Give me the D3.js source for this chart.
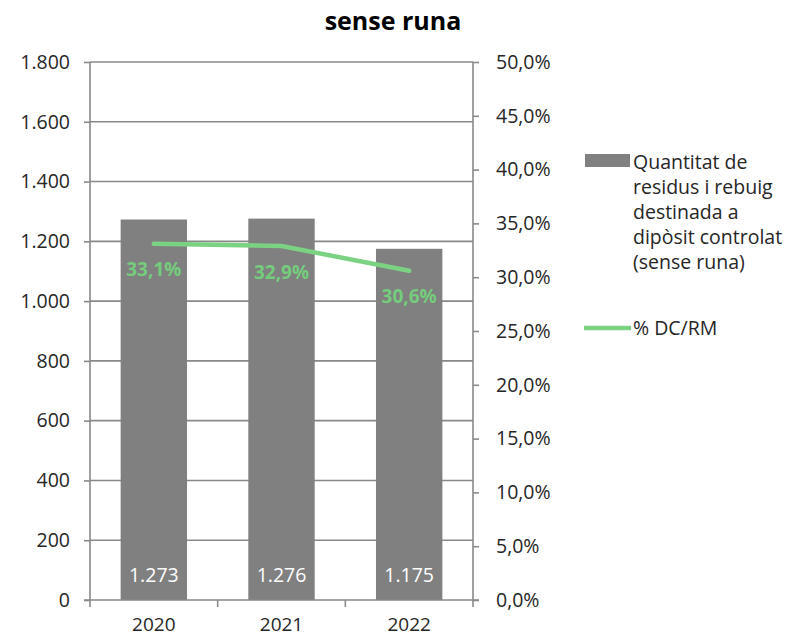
<!DOCTYPE html>
<html><head><meta charset="utf-8">
<script src="https://cdn.jsdelivr.net/npm/d3@7"></script>
<style>body{margin:0;background:#fff}svg{font-family:"Open Sans",sans-serif}</style>
</head><body><svg id="c" width="797" height="639"></svg>
<script>
const years = ["2020","2021","2022"];
const quantitat = [1273, 1276, 1175];
const quantitatLabels = ["1.273","1.276","1.175"];
const pct = [33.1, 32.9, 30.6];
const pctLabels = ["33,1%","32,9%","30,6%"];
const leftTicks = [0,200,400,600,800,1000,1200,1400,1600,1800];
const leftTickLabels = ["0","200","400","600","800","1.000","1.200","1.400","1.600","1.800"];
const rightTicks = [0,5,10,15,20,25,30,35,40,45,50];
const rightTickLabels = ["0,0%","5,0%","10,0%","15,0%","20,0%","25,0%","30,0%","35,0%","40,0%","45,0%","50,0%"];
const legendBar = ["Quantitat de","residus i rebuig","destinada a","dipòsit controlat","(sense runa)"];
const legendLine = "% DC/RM";
const title = "sense runa";

const svg = d3.select("#c");
const L = 90, R = 473, T = 62, B = 600;
const gray = "#808080", axisCol = "#898989", green = "#7bd282", greenTxt = "#74cc7c", txt = "#262626";

const x = d3.scaleBand().domain(years).range([L, R]).paddingInner(0.48).paddingOuter(0.24);
const xb = d3.scaleBand().domain(years).range([L, R]);
const y = d3.scaleLinear().domain([0, 1800]).range([B, T]);
const y2 = d3.scaleLinear().domain([0, 50]).range([B, T]);

// title
svg.append("text").attr("x", 393).attr("y", 30).attr("text-anchor", "middle")
  .attr("font-size", 25).attr("font-weight", "bold").attr("fill", "#000").text(title);

// gridlines
svg.append("g").selectAll("line").data(leftTicks.filter(d => d > 0)).join("line")
  .attr("x1", L).attr("x2", R).attr("y1", d => y(d)).attr("y2", d => y(d))
  .attr("stroke", axisCol).attr("stroke-width", 1.6);

// bars
svg.append("g").selectAll("rect").data(years).join("rect")
  .attr("x", d => x(d)).attr("width", x.bandwidth())
  .attr("y", (d, i) => y(quantitat[i])).attr("height", (d, i) => B - y(quantitat[i]))
  .attr("fill", gray);

// left axis
const ax = d3.axisLeft(y).tickValues(leftTicks).tickSize(6).tickPadding(14)
  .tickFormat((d, i) => leftTickLabels[i]);
const gL = svg.append("g").attr("transform", `translate(${L},0)`).call(ax);
gL.select(".domain").attr("stroke", axisCol).attr("stroke-width", 1.6).attr("d", `M0,${B}V${T}`);
gL.selectAll(".tick line").attr("stroke", axisCol).attr("stroke-width", 1.6);
gL.selectAll(".tick text").attr("font-size", 19.5).attr("fill", txt).attr("font-family", "Open Sans");

// right axis
const ar = d3.axisRight(y2).tickValues(rightTicks).tickSize(6).tickPadding(17)
  .tickFormat((d, i) => rightTickLabels[i]);
const gR = svg.append("g").attr("transform", `translate(${R},0)`).call(ar);
gR.select(".domain").attr("stroke", axisCol).attr("stroke-width", 1.6).attr("d", `M0,${B}V${T}`);
gR.selectAll(".tick line").attr("stroke", axisCol).attr("stroke-width", 1.6);
gR.selectAll(".tick text").attr("font-size", 19.5).attr("fill", txt).attr("font-family", "Open Sans");

// bottom axis
const abot = d3.axisBottom(xb).tickSize(0).tickPadding(15);
const gB = svg.append("g").attr("transform", `translate(0,${B})`).call(abot);
gB.select(".domain").attr("stroke", axisCol).attr("stroke-width", 1.6).attr("d", `M${L-6},0H${R+6}`);
gB.selectAll(".tick text").attr("font-size", 19).attr("fill", txt).attr("font-family", "Open Sans").attr("dy", "0.85em");
const bounds = years.map(d => xb(d)).concat([xb(years[years.length-1]) + xb.bandwidth()]);
svg.append("g").selectAll("line").data(bounds).join("line")
  .attr("x1", d => d).attr("x2", d => d).attr("y1", B).attr("y2", B + 7)
  .attr("stroke", axisCol).attr("stroke-width", 1.6);

// bar labels
svg.append("g").selectAll("text").data(years).join("text")
  .attr("x", d => x(d) + x.bandwidth() / 2).attr("y", B - 25).attr("dy", "0.35em")
  .attr("text-anchor", "middle").attr("font-size", 19.5).attr("fill", "#fff")
  .text((d, i) => quantitatLabels[i]);

// line
const cx = d => xb(d) + xb.bandwidth() / 2;
svg.append("path").datum(years)
  .attr("d", d3.line().x(d => cx(d)).y((d, i) => y2(pct[i])))
  .attr("fill", "none").attr("stroke", green).attr("stroke-width", 4.5).attr("stroke-linecap", "round");

svg.append("g").selectAll("text").data(years).join("text")
  .attr("x", d => cx(d)).attr("y", (d, i) => y2(pct[i]) + 26).attr("dy", "0.35em")
  .attr("text-anchor", "middle").attr("font-size", 19).attr("font-weight", "bold").attr("fill", greenTxt)
  .text((d, i) => pctLabels[i]);

// legend
const lg = svg.append("g");
lg.append("rect").attr("x", 585).attr("y", 154).attr("width", 45).attr("height", 13).attr("fill", gray);
lg.selectAll("text.lb").data(legendBar).join("text").attr("class", "lb")
  .attr("x", 633).attr("y", (d, i) => 162 + i * 25).attr("dy", "0.35em")
  .attr("font-size", 19.5).attr("fill", txt).text(d => d);
lg.append("line").attr("x1", 584).attr("x2", 631).attr("y1", 328).attr("y2", 328)
  .attr("stroke", green).attr("stroke-width", 4.5);
lg.append("text").attr("x", 633).attr("y", 328).attr("dy", "0.35em")
  .attr("font-size", 19.5).attr("fill", txt).text(legendLine);
</script></body></html>
